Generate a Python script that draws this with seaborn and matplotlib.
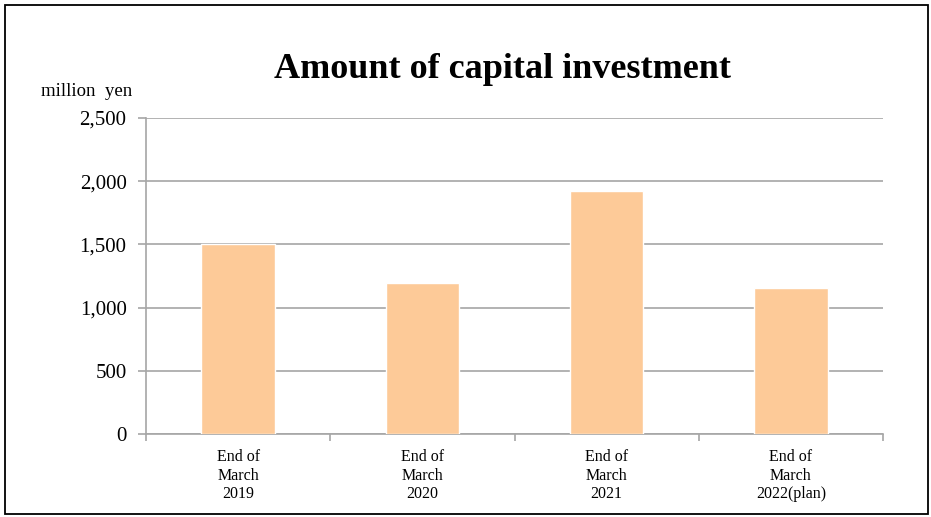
import matplotlib
matplotlib.use("Agg")
import matplotlib.pyplot as plt
import seaborn as sns
import pandas as pd
from matplotlib.patches import Rectangle
from matplotlib.ticker import FuncFormatter

categories = ["End of\nMarch\n2019", "End of\nMarch\n2020", "End of\nMarch\n2021", "End of\nMarch\n2022(plan)"]
values = [1500, 1195, 1922, 1155]
y_ticks = [0, 500, 1000, 1500, 2000, 2500]

sns.set_theme(style="white")
plt.rcParams["font.family"] = ["Liberation Serif", "DejaVu Serif"]
plt.rcParams["text.color"] = "black"
plt.rcParams["xtick.labelcolor"] = "black"
plt.rcParams["ytick.labelcolor"] = "black"

fig = plt.figure(figsize=(9.31, 5.17), dpi=100)
ax = fig.add_axes([146/931, 1-434/517, (883-146)/931, (434-118)/517])

df = pd.DataFrame({"cat": categories, "val": values})
sns.barplot(data=df, x="cat", y="val", ax=ax, color="#FDCA98", saturation=1, width=0.4, zorder=3)

ax.set_xlim(-0.5, 3.5)
ax.set_ylim(0, 2500)
ax.set_yticks(y_ticks)
ax.yaxis.set_major_formatter(FuncFormatter(lambda v, p: f"{int(v):,}"))
ax.grid(axis="y", color="#a6a6a6", linewidth=1.2, zorder=0)
ax.set_axisbelow(True)
for s in ["top", "right"]:
    ax.spines[s].set_visible(False)
for s in ["left", "bottom"]:
    ax.spines[s].set_color("#a6a6a6")
    ax.spines[s].set_linewidth(1.2)
ax.set_xlabel("")
ax.set_ylabel("")
ax.tick_params(axis="y", which="major", direction="out", length=6, width=1.2, color="#a6a6a6",
               labelsize=15, pad=8, left=True, labelcolor="black")
ax.tick_params(axis="x", which="major", length=0, labelsize=11.5, pad=11, labelcolor="black")
ax.set_xticks([-0.5, 0.5, 1.5, 2.5, 3.5], minor=True)
ax.tick_params(axis="x", which="minor", direction="out", length=5, width=1.2, color="#a6a6a6", bottom=True)
for lab in ax.get_xticklabels():
    lab.set_linespacing(1.2)

fig.text(503/931, 1-70/517, "Amount of capital investment", ha="center", va="center",
         fontsize=26, fontweight="bold", color="black")
fig.text(41/931, 1-92/517, "million  yen", ha="left", va="center", fontsize=13.5, color="black")

fig.patches.append(Rectangle((5/931, 3/517), 923/931, 509/517, transform=fig.transFigure,
                             fill=False, edgecolor="black", linewidth=1.3))

fig.savefig("out.png", dpi=100)
